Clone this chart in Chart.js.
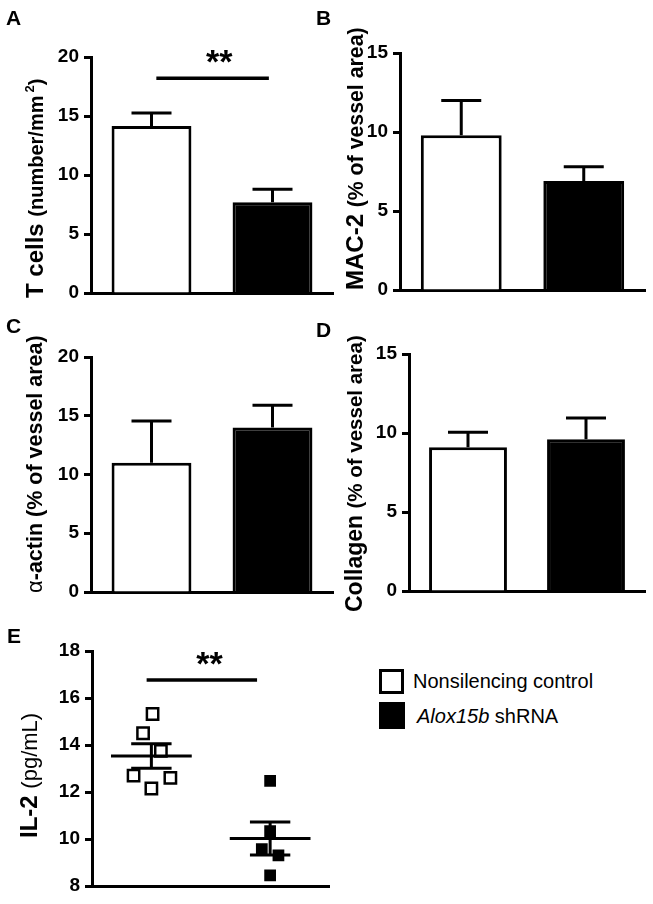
<!DOCTYPE html>
<html>
<head>
<meta charset="utf-8">
<script src="https://cdn.jsdelivr.net/npm/chart.js@4.4.0/dist/chart.umd.min.js"></script>
<style>
  body { margin: 0; background: #fff; }
  #page { position: relative; width: 653px; height: 904px; overflow: hidden; font-family: 'Liberation Sans', Arial, sans-serif; }
  canvas { position: absolute; }
  .box { position: absolute; box-sizing: border-box; border: 3px solid #000; }
  .leg { position: absolute; font-size: 20px; line-height: 24px; color: #000; white-space: nowrap; }
</style>
</head>
<body>
<div id="page">
  <canvas id="chartA" width="335" height="310" style="left:0;top:0"></canvas>
  <canvas id="chartB" width="338" height="310" style="left:315px;top:0"></canvas>
  <canvas id="chartC" width="335" height="310" style="left:0;top:300px"></canvas>
  <canvas id="chartD" width="338" height="320" style="left:315px;top:300px"></canvas>
  <canvas id="chartE" width="340" height="294" style="left:0;top:610px"></canvas>

  <div class="box" style="left:379px;top:669px;width:25px;height:25px;background:#fff"></div>
  <div class="leg" style="left:413px;top:669px">Nonsilencing control</div>
  <div class="box" style="left:379px;top:702px;width:26px;height:27px;background:#000"></div>
  <div class="leg" style="left:417px;top:704px"><i>Alox15b</i> shRNA</div>
</div>
<script>
// values (mean and SEM per group)
const groups = ['Nonsilencing control', 'Alox15b shRNA'];
const tCellsMean = [14.15, 7.7];
const tCellsSem = [1.1, 1.1];
const mac2Mean = [9.8, 6.9];
const mac2Sem = [2.2, 0.9];
const actinMean = [11.0, 14.0];
const actinSem = [3.55, 1.9];
const collagenMean = [9.1, 9.6];
const collagenSem = [0.95, 1.35];

// panel E: individual animals, x = group position with jitter
const il2Control = [15.32, 14.5, 13.75, 12.7, 12.6, 12.15];
const il2ControlX = [1.01, 0.93, 1.08, 0.85, 1.16, 1.0];
const il2Knock = [12.47, 10.34, 9.57, 9.3, 8.45];
const il2KnockX = [2.0, 2.0, 1.93, 2.07, 2.0];
const il2Mean = [13.53, 10.02];
const il2Sem = [0.52, 0.70];

// significance brackets: [from, to, height] and star position [x, y] in data units
const sigA = [0.04, 0.97, 18.2];
const starsA = [0.56, 20.25];
const sigE = [0.96, 1.89, 16.77];
const starsE = [1.49, 17.77];

const FONT = "'Liberation Sans', Arial, sans-serif";
Chart.defaults.font.family = FONT;
Chart.defaults.color = '#000';

const errorBars = {
    id: 'errorBars',
    afterDatasetsDraw(chart) {
        const ctx = chart.ctx, y = chart.scales.y;
        chart.data.datasets.forEach((ds, di) => {
            if (!ds.sem) return;
            chart.getDatasetMeta(di).data.forEach((bar, i) => {
                const top = y.getPixelForValue(ds.data[i] + ds.sem[i]);
                ctx.save();
                ctx.strokeStyle = '#000';
                ctx.lineWidth = 3;
                ctx.beginPath();
                ctx.moveTo(bar.x, bar.y);
                ctx.lineTo(bar.x, top);
                ctx.moveTo(bar.x - 20, top);
                ctx.lineTo(bar.x + 20, top);
                ctx.stroke();
                ctx.restore();
            });
        });
    }
};

const meanSem = {
    id: 'meanSem',
    afterDatasetsDraw(chart) {
        const ctx = chart.ctx, x = chart.scales.x, y = chart.scales.y;
        ctx.save();
        ctx.strokeStyle = '#000';
        ctx.lineWidth = 3;
        il2Mean.forEach((m, i) => {
            const g = i + 1;
            const ym = y.getPixelForValue(m);
            const yt = y.getPixelForValue(m + il2Sem[i]);
            const yb = y.getPixelForValue(m - il2Sem[i]);
            ctx.beginPath();
            ctx.moveTo(x.getPixelForValue(g - 0.34), ym);
            ctx.lineTo(x.getPixelForValue(g + 0.34), ym);
            ctx.moveTo(x.getPixelForValue(g), yt);
            ctx.lineTo(x.getPixelForValue(g), yb);
            ctx.moveTo(x.getPixelForValue(g - 0.17), yt);
            ctx.lineTo(x.getPixelForValue(g + 0.17), yt);
            ctx.moveTo(x.getPixelForValue(g - 0.17), yb);
            ctx.lineTo(x.getPixelForValue(g + 0.17), yb);
            ctx.stroke();
        });
        ctx.restore();
    }
};

// panel letter, rotated y title (mixed fonts), optional significance bar
function decor(cfg) {
    return {
        id: 'decor',
        afterDraw(chart) {
            const ctx = chart.ctx;
            ctx.save();
            ctx.fillStyle = '#000';
            ctx.textBaseline = 'alphabetic';
            ctx.font = `bold 21px ${FONT}`;
            ctx.fillText(cfg.letter, cfg.letterPos[0], cfg.letterPos[1]);

            if (cfg.sig) {
                const x = chart.scales.x, y = chart.scales.y;
                const ys = y.getPixelForValue(cfg.sig[2]);
                ctx.strokeStyle = '#000';
                ctx.lineWidth = 3.5;
                ctx.beginPath();
                ctx.moveTo(x.getPixelForValue(cfg.sig[0]), ys);
                ctx.lineTo(x.getPixelForValue(cfg.sig[1]), ys);
                ctx.stroke();
                ctx.font = `bold 34px ${FONT}`;
                ctx.textAlign = 'center';
                ctx.fillText('**', x.getPixelForValue(cfg.stars[0]), y.getPixelForValue(cfg.stars[1]) + 19);
                ctx.textAlign = 'left';
            }

            ctx.translate(cfg.titlePos[0], cfg.titlePos[1]);
            ctx.rotate(-Math.PI / 2);
            let pos = 0;
            cfg.title.forEach(p => {
                ctx.font = p.font;
                ctx.fillText(p.text, pos + (p.dx || 0), p.dy || 0);
                pos += ctx.measureText(p.text).width + (p.dx || 0);
            });
            ctx.restore();
        }
    };
}

function yAxis(max, step, width, min = 0) {
    return {
        min, max,
        ticks: { stepSize: step, color: '#000', padding: 5, font: { size: 19, weight: 'bold' } },
        grid: { drawOnChartArea: false, color: '#000', tickLength: 7, tickWidth: 3 },
        border: { display: true, color: '#000', width: 3 },
        afterFit: s => { s.width = width; }
    };
}

const xAxisBase = {
    ticks: { display: false },
    grid: { display: false },
    border: { display: true, color: '#000', width: 3 },
    afterFit: s => { s.height = 0; }
};

function barPanel(id, means, sems, max, yWidth, pad, deco) {
    return new Chart(document.getElementById(id), {
        type: 'bar',
        data: {
            labels: groups,
            datasets: [{
                data: means,
                sem: sems,
                backgroundColor: ['#fff', '#000'],
                borderColor: '#000',
                borderWidth: 3,
                categoryPercentage: 1,
                barPercentage: 0.66
            }]
        },
        options: {
            responsive: false,
            animation: false,
            events: [],
            layout: { padding: pad },
            plugins: { legend: { display: false }, tooltip: { enabled: false } },
            scales: { x: xAxisBase, y: yAxis(max, 5, yWidth) }
        },
        plugins: [errorBars, decor(deco)]
    });
}

barPanel('chartA', tCellsMean, tCellsSem, 20, 91, { top: 57, bottom: 17, left: 0, right: 2 }, {
    letter: 'A', letterPos: [6, 25], titlePos: [43, 298],
    title: [
        { text: 'T cells ', font: `bold 24px ${FONT}` },
        { text: '(number/mm', font: `bold 20px ${FONT}` },
        { text: '2', font: `bold 13px ${FONT}`, dx: 3, dy: -9 },
        { text: ')', font: `bold 20px ${FONT}` }
    ],
    sig: sigA, stars: starsA
});

barPanel('chartB', mac2Mean, mac2Sem, 15, 85, { top: 53, bottom: 20, left: 0, right: 8 }, {
    letter: 'B', letterPos: [1, 25], titlePos: [48, 290],
    title: [
        { text: 'MAC-2 ', font: `bold 24px ${FONT}` },
        { text: '(% of vessel area)', font: `bold 21.3px ${FONT}` }
    ]
});

barPanel('chartC', actinMean, actinSem, 20, 91, { top: 57, bottom: 18, left: 0, right: 2 }, {
    letter: 'C', letterPos: [6, 33], titlePos: [42, 293],
    title: [
        { text: '\u03b1', font: `22px ${FONT}` },
        { text: '-actin (% of vessel area)', font: `bold 21.5px ${FONT}` }
    ]
});

barPanel('chartD', collagenMean, collagenSem, 15, 94, { top: 54, bottom: 29, left: 0, right: 8 }, {
    letter: 'D', letterPos: [1, 37], titlePos: [47, 312],
    title: [
        { text: 'Collagen ', font: `bold 23px ${FONT}` },
        { text: '(% of vessel area)', font: `bold 20.5px ${FONT}` }
    ]
});

new Chart(document.getElementById('chartE'), {
    type: 'scatter',
    data: {
        datasets: [{
            label: groups[0],
            data: il2Control.map((v, i) => ({ x: il2ControlX[i], y: v })),
            pointStyle: 'rect',
            pointRadius: 8,
            backgroundColor: '#fff',
            borderColor: '#000',
            borderWidth: 2.5
        }, {
            label: groups[1],
            data: il2Knock.map((v, i) => ({ x: il2KnockX[i], y: v })),
            pointStyle: 'rect',
            pointRadius: 8.3,
            backgroundColor: '#000',
            borderColor: '#000',
            borderWidth: 0
        }]
    },
    options: {
        responsive: false,
        animation: false,
        events: [],
        layout: { padding: { top: 41, bottom: 18, left: 0, right: 9 } },
        plugins: { legend: { display: false }, tooltip: { enabled: false } },
        scales: {
            x: Object.assign({ type: 'linear', min: 0.5, max: 2.5 }, xAxisBase),
            y: yAxis(18, 2, 92, 8)
        }
    },
    plugins: [meanSem, decor({
        letter: 'E', letterPos: [7, 33], titlePos: [37, 228],
        title: [
            { text: 'IL-2 ', font: `bold 24px ${FONT}` },
            { text: '(pg/mL)', font: `22px ${FONT}` }
        ],
        sig: sigE, stars: starsE
    })]
});
</script>
</body>
</html>
